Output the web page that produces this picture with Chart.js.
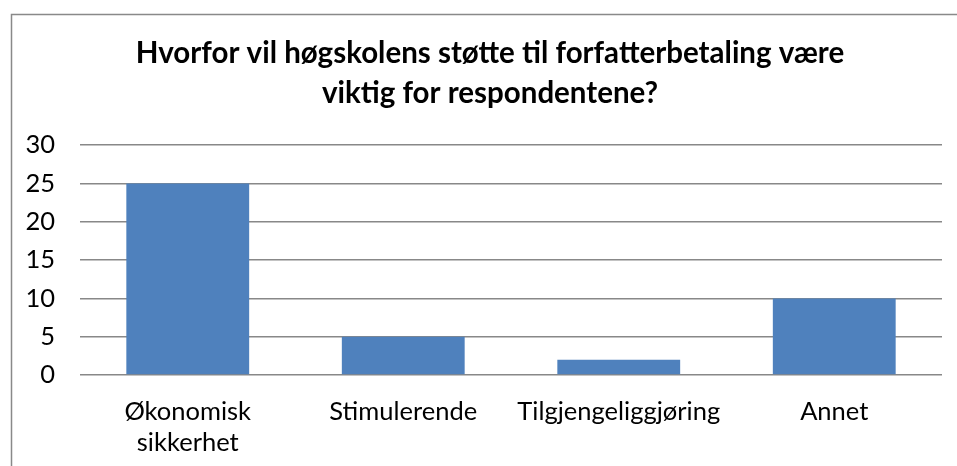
<!DOCTYPE html>
<html>
<head>
<meta charset="utf-8">
<script src="https://cdn.jsdelivr.net/npm/chart.js@4"></script>
<style>
  html, body { margin: 0; padding: 0; background: #fff; }
  #wrap { width: 957px; height: 466px; }
</style>
</head>
<body>
<div id="wrap"><canvas id="myChart" width="957" height="466"></canvas></div>
<script>
// chart data
const categories = [['Økonomisk', 'sikkerhet'], 'Stimulerende', 'Tilgjengeliggjøring', 'Annet']
const values = [25, 5, 2, 10]
const yTicks = [0, 5, 10, 15, 20, 25, 30]
const titleLines = ['Hvorfor vil høgskolens støtte til forfatterbetaling være', 'viktig for respondentene?']

const FONT = 'Lato, Carlito, Calibri, sans-serif'

// outer frame like the office chart border, title nudged to the frame's centre
const framePlugin = {
  id: 'frame',
  afterLayout(chart) {
    chart.titleBlock.left += 19
    chart.titleBlock.right += 19
  },
  beforeDraw(chart) {
    const c = chart.ctx
    c.save()
    c.strokeStyle = '#898989'
    c.lineWidth = 1.5
    c.strokeRect(11.5, 14.5, 960, 500)
    c.restore()
  }
}

const ctx = document.getElementById('myChart')

new Chart(ctx, {
  type: 'bar',
  data: {
    labels: categories,
    datasets: [{
      data: values,
      backgroundColor: '#4F81BD',
      borderWidth: 0,
      barPercentage: 0.57,
      categoryPercentage: 1,
    }]
  },
  options: {
    responsive: false,
    animation: false,
    layout: {
      padding: { left: 0, right: 15, top: 0, bottom: 0 }
    },
    plugins: {
      legend: { display: false },
      tooltip: { enabled: false },
      title: {
        display: true,
        text: titleLines,
        color: '#000',
        font: { family: FONT, size: 29.5, weight: 'bold', lineHeight: 1.36 },
        padding: { top: 33, bottom: 32 }
      }
    },
    scales: {
      x: {
        grid: { display: false },
        border: { display: false },
        ticks: {
          color: '#000',
          font: { family: FONT, size: 25.5, lineHeight: 1.22 },
          padding: 13,
          maxRotation: 0,
          autoSkip: false
        },
        afterFit(scale) { scale.height = 91 }
      },
      y: {
        min: 0,
        max: 30,
        afterBuildTicks(scale) { scale.ticks = yTicks.map(v => ({ value: v })) },
        grid: { color: '#888', lineWidth: 1.5, drawTicks: false },
        border: { display: false },
        ticks: {
          color: '#000',
          font: { family: FONT, size: 25.5 },
          padding: 25
        },
        afterFit(scale) { scale.width = 80 }
      }
    }
  },
  plugins: [framePlugin]
})
</script>
</body>
</html>
